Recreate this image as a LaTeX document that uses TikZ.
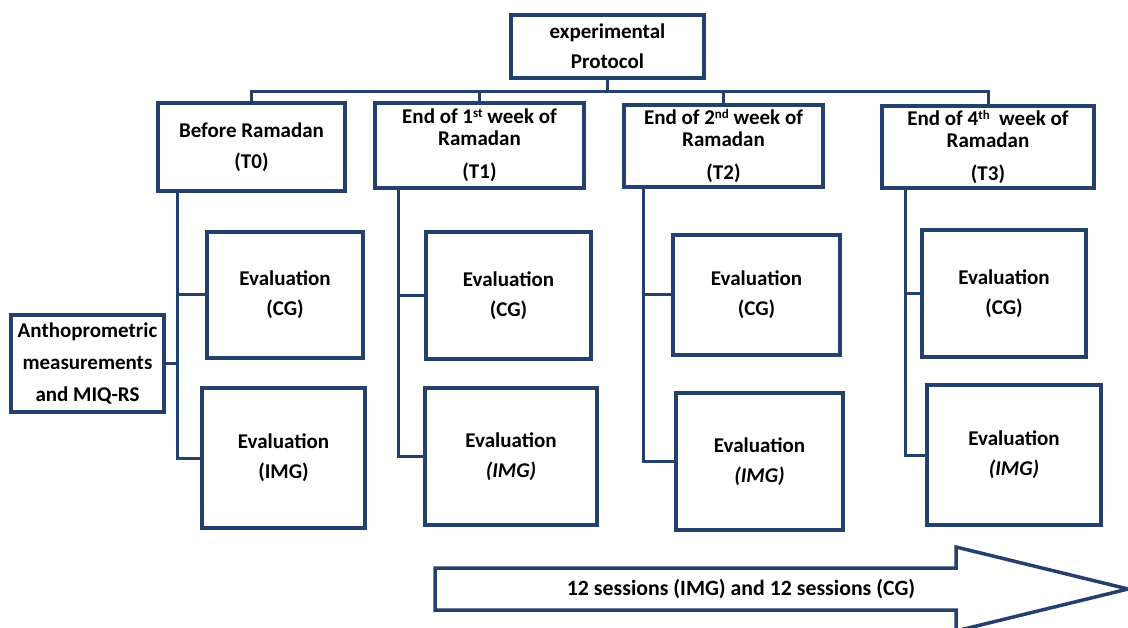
\documentclass[tikz,border=0pt]{standalone}
\usepackage{fontspec}
\setmainfont{Carlito}
\definecolor{navy}{RGB}{36,64,108}
\newcommand\supx[1]{\raisebox{6.5pt}{\fontsize{13}{13}\selectfont #1}}
\begin{document}
\begin{tikzpicture}[x=1pt,y=-1pt,
  box/.style={draw=navy, line width=3.5pt, fill=white, inner sep=0pt, align=center,
    font=\fontsize{21}{22}\selectfont\bfseries, text=black},
  link/.style={draw=navy, line width=3pt},
  arrowshape/.style={draw=navy, line width=3.5pt, fill=white, line join=miter},
  lbl/.style={font=\fontsize{21.8}{22}\selectfont\bfseries, text=black}]
\useasboundingbox (0,0) rectangle (1128,628);
\newcommand\mybox[6]{\node[box, minimum width={(#4-#2)*1pt}, minimum height={(#5-#3)*1pt}] (#1) at ({(#2+#4)/2},{(#3+#5)/2}) {#6};}
% top
\mybox{proto}{511}{15}{704}{78}{experimental\\[8pt]Protocol}
% headers
\mybox{T0}{158}{103}{345}{191}{Before Ramadan\\[9pt](T0)}
\mybox{T1}{375}{103}{584}{188}{End of 1\supx{st} week of\\Ramadan\\[11pt](T1)}
\mybox{T2}{624}{105}{823}{187}{End of 2\supx{nd} week of\\Ramadan\\[11pt](T2)}
\mybox{T3}{882}{106}{1094}{188}{End of 4\supx{th}\ \ week of\\Ramadan\\[11pt](T3)}
% evaluations
\mybox{c0}{207}{232}{363}{358}{Evaluation\\[8pt](CG)}
\mybox{i0}{202}{388}{365}{528}{Evaluation\\[8pt](IMG)}
\mybox{c1}{426}{232}{591}{359}{Evaluation\\[8pt](CG)}
\mybox{i1}{425}{388}{597}{525}{Evaluation\\[8pt]\textit{(IMG)}}
\mybox{c2}{673}{235}{840}{355}{Evaluation\\[8pt](CG)}
\mybox{i2}{676}{393}{843}{530}{Evaluation\\[8pt]\textit{(IMG)}}
\mybox{c3}{922}{230}{1086}{357}{Evaluation\\[8pt](CG)}
\mybox{i3}{927}{385}{1101}{525}{Evaluation\\[8pt]\textit{(IMG)}}
\mybox{anthro}{11}{315}{164}{412}{Anthoprometric\\[10pt]measurements\\[10pt]and MIQ-RS}
% bus
\coordinate (busL) at (251.5,92);
\coordinate (busR) at (988,92);
\draw[link] (proto.south) -- (proto.south |- busL);
\draw[link] (T0.north) -- (T0.north |- busL) -- (T3.north |- busR) -- (T3.north);
\draw[link] (T1.north) -- (T1.north |- busL);
\draw[link] (T2.north) -- (T2.north |- busL);
% spines
\coordinate (s0) at (177,0);
\coordinate (s1) at (398,0);
\coordinate (s2) at (643,0);
\coordinate (s3) at (905,0);
\draw[link] (s0 |- T0.south) |- (i0.west);
\draw[link] (s0 |- c0.west) -- (c0.west);
\draw[link] (anthro.east) -- (anthro.east -| s0);
\draw[link] (s1 |- T1.south) |- (i1.west);
\draw[link] (s1 |- c1.west) -- (c1.west);
\draw[link] (s2 |- T2.south) |- (i2.west);
\draw[link] (s2 |- c2.west) -- (c2.west);
\draw[link] (s3 |- T3.south) |- (i3.west);
\draw[link] (s3 |- c3.west) -- (c3.west);
% big arrow
\draw[arrowshape] (435,568) -- (956,568) -- (956,547) -- (1128,589) -- (956,631) -- (956,610) -- (435,610) -- cycle;
\node[lbl] (sessions) at (741,589) {12 sessions (IMG) and 12 sessions (CG)};
\end{tikzpicture}
\end{document}
